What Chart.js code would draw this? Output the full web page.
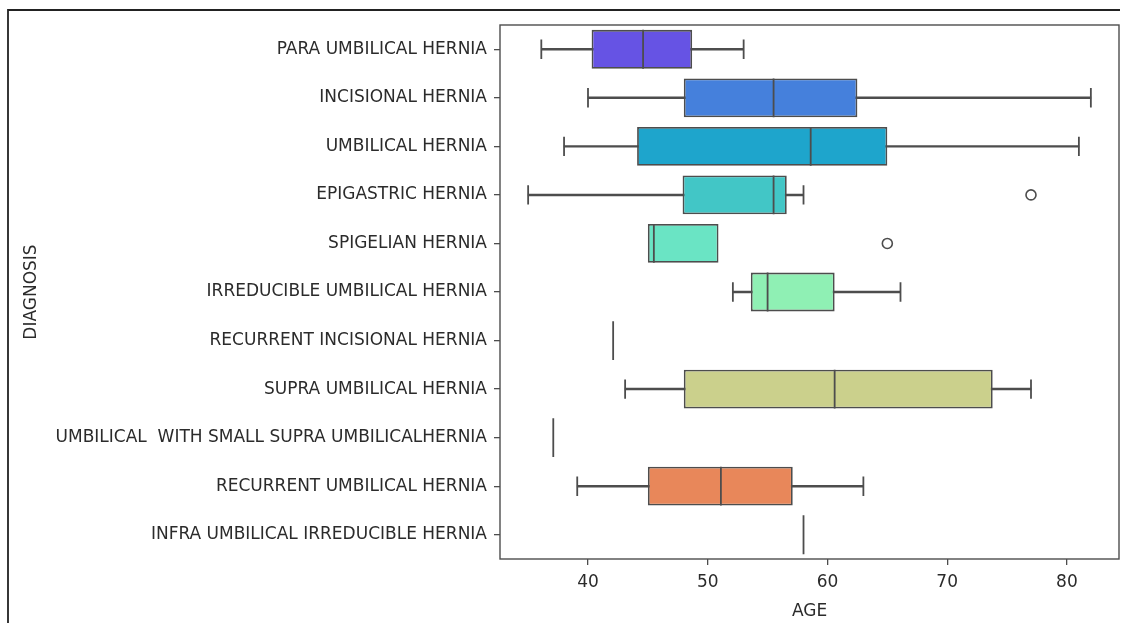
<!DOCTYPE html>
<html lang="en">
<head>
<meta charset="UTF-8" />
<title>Age by diagnosis</title>
<script src="https://cdn.jsdelivr.net/npm/chart.js"></script>
<style>
    body { margin: 0; background: #fff; }
    #wrap { width: 1126px; height: 623px; position: relative; }
</style>
</head>
<body>
<div id="wrap"><canvas id="boxChart"></canvas></div>
<script>
    const categories = [
        "PARA UMBILICAL HERNIA",
        "INCISIONAL HERNIA",
        "UMBILICAL HERNIA",
        "EPIGASTRIC HERNIA",
        "SPIGELIAN HERNIA",
        "IRREDUCIBLE UMBILICAL HERNIA",
        "RECURRENT INCISIONAL HERNIA",
        "SUPRA UMBILICAL HERNIA",
        "UMBILICAL  WITH SMALL SUPRA UMBILICALHERNIA",
        "RECURRENT UMBILICAL HERNIA",
        "INFRA UMBILICAL IRREDUCIBLE HERNIA"
    ];
    const whiskerLow  = [36.1, 40, 38, 35, 45, 52.1, 42.1, 43.1, 37.1, 39.1, 58];
    const q1          = [40.3, 48, 44.1, 47.9, 45, 53.6, 42.1, 48, 37.1, 45, 58];
    const medians     = [44.6, 55.5, 58.6, 55.5, 45.5, 55, 42.1, 60.6, 37.1, 51.1, 58];
    const q3          = [48.7, 62.5, 65, 56.6, 50.9, 60.6, 42.1, 73.8, 37.1, 57.1, 58];
    const whiskerHigh = [53, 82, 81, 58, 50.9, 66.1, 42.1, 77, 37.1, 63, 58];
    const outlierCats = ["EPIGASTRIC HERNIA", "SPIGELIAN HERNIA"];
    const outlierVals = [77, 65];
    const xTicks = [40, 50, 60, 70, 80];
    const boxColors = ["#6653e4", "#4580dc", "#1ea5cc", "#42c6c6", "#6ae4c4", "#8ff0b4",
        "#b9e69a", "#cbd08c", "#e8b070", "#e8875a", "#e0604c"];

    const lineGray = "#4d4d4d";

    Chart.defaults.font.family = "'DejaVu Sans', 'Liberation Sans', sans-serif";
    Chart.defaults.font.size = 17;
    Chart.defaults.color = "#2b2b2b";

    // spines and the outer frame around the figure
    const framePlugin = {
        id: 'frame',
        afterDraw(chart) {
            const { ctx, chartArea: a } = chart;
            ctx.save();
            ctx.strokeStyle = lineGray;
            ctx.lineWidth = 1.4;
            ctx.strokeRect(a.left, a.top, a.right - a.left, a.bottom - a.top);
            ctx.strokeStyle = "#222";
            ctx.lineWidth = 1.8;
            ctx.beginPath();
            ctx.moveTo(8, 623);
            ctx.lineTo(8, 10);
            ctx.lineTo(1120, 10);
            ctx.stroke();
            ctx.restore();
        }
    };

    // whiskers and caps only where they leave the box
    const capLow = whiskerLow.map((v, i) => v < q1[i] ? v : null);
    const capHigh = whiskerHigh.map((v, i) => v > q3[i] ? v : null);
    const whiskers = whiskerLow.map((v, i) =>
        (v < q1[i] || whiskerHigh[i] > q3[i]) ? [v, whiskerHigh[i]] : null);

    const markerSet = (values, radius, order) => ({
        type: 'line',
        indexAxis: 'y',
        data: values.map((v, i) => ({ x: v, y: categories[i] })),
        showLine: false,
        pointStyle: 'line',
        rotation: 90,
        pointRadius: radius,
        pointBorderWidth: 1.8,
        pointBorderColor: lineGray,
        order
    });

    new Chart(document.getElementById('boxChart'), {
        type: 'bar',
        data: {
            labels: categories,
            datasets: [
                {
                    label: 'whiskers',
                    data: whiskers,
                    backgroundColor: lineGray,
                    borderWidth: 0,
                    barThickness: 1.8,
                    grouped: false,
                    order: 6
                },
                {
                    label: 'box',
                    data: q1.map((v, i) => [v, q3[i]]),
                    backgroundColor: boxColors,
                    borderColor: lineGray,
                    borderWidth: 1.8,
                    borderSkipped: false,
                    barPercentage: 0.8,
                    categoryPercentage: 1,
                    grouped: false,
                    order: 5
                },
                markerSet(capLow, 9.7, 4),
                markerSet(capHigh, 9.7, 3),
                markerSet(medians, 19.4, 2),
                {
                    type: 'line',
                    indexAxis: 'y',
                    data: outlierVals.map((v, i) => ({ x: v, y: outlierCats[i] })),
                    showLine: false,
                    pointStyle: 'circle',
                    pointRadius: 5,
                    pointBackgroundColor: '#fff',
                    pointBorderColor: lineGray,
                    pointBorderWidth: 1.6,
                    order: 1
                }
            ]
        },
        options: {
            indexAxis: 'y',
            responsive: true,
            maintainAspectRatio: false,
            animation: false,
            events: [],
            layout: { autoPadding: false, padding: { top: 25, right: 7, left: 0, bottom: 0 } },
            plugins: { legend: { display: false }, tooltip: { enabled: false } },
            scales: {
                x: {
                    type: 'linear',
                    min: 32.65,
                    max: 84.35,
                    afterBuildTicks: s => { s.ticks = xTicks.map(v => ({ value: v })); },
                    afterFit: s => { s.height = 64; s.paddingLeft = 0; s.paddingRight = 0; },
                    grid: { drawOnChartArea: false, tickLength: 6, color: lineGray, lineWidth: 1.3 },
                    border: { display: false },
                    ticks: { padding: 7, maxRotation: 0 },
                    title: { display: true, text: 'AGE', padding: { top: 0, bottom: 1 } }
                },
                y: {
                    type: 'category',
                    offset: true,
                    afterFit: s => { s.width = 500; s.paddingTop = 0; s.paddingBottom = 0; },
                    grid: { offset: false, drawOnChartArea: false, tickLength: 6, color: lineGray, lineWidth: 1.3 },
                    border: { display: false },
                    ticks: { padding: 7, autoSkip: false },
                    title: { display: true, text: 'DIAGNOSIS', padding: { top: 21, bottom: 0 } }
                }
            }
        },
        plugins: [framePlugin]
    });
</script>
</body>
</html>
